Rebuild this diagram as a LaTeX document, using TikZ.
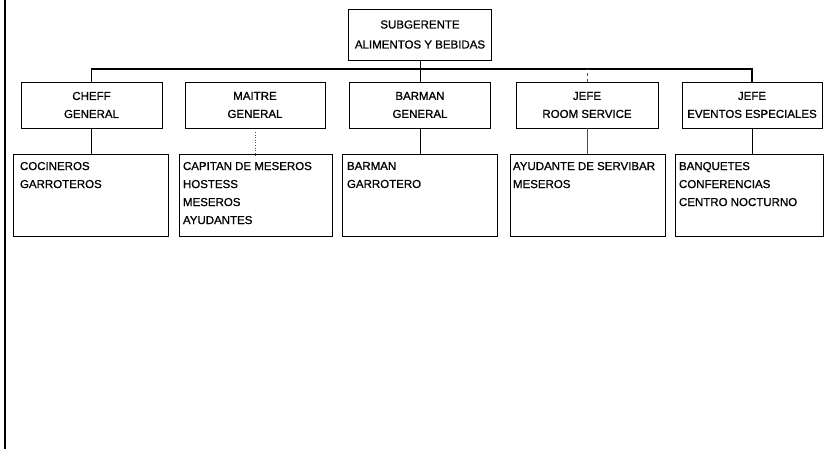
\documentclass[tikz,border=0pt]{standalone}
\usepackage{fontspec}
\setmainfont{Liberation Sans}
\newfontfamily\chartfont{Liberation Sans}[FakeBold=0.9]
\begin{document}
\begin{tikzpicture}[x=1pt,y=-1pt,
  every node/.style={inner sep=0pt, outer sep=0pt},
  txt/.style={font=\chartfont\fontsize{11.5}{18}\selectfont},
  box/.style={draw, line width=0.9pt},
  headbox/.style={box, minimum height=46pt, align=center, txt},
  listbox/.style={box, minimum height=82pt},
  listtxt/.style={txt, anchor=north west, align=left},
  link/.style={line width=0.9pt},
  weak/.style={line width=0.6pt, black!70},
  busline/.style={line width=1.4pt}]
\useasboundingbox (0,0) rectangle (824,449);

% left margin rule
\draw[line width=1.6pt] (5,0) -- (5,449);

% top position
\node[box, minimum width=143pt, minimum height=51pt, align=center,
      font=\chartfont\fontsize{11.5}{20}\selectfont] (top) at (420,34.5)
      {SUBGERENTE\\ALIMENTOS Y BEBIDAS};

% department heads
\node[headbox, minimum width=141pt] (m1) at (91.5,105) {CHEFF\\GENERAL};
\node[headbox, minimum width=140pt] (m2) at (255,105) {MAITRE\\GENERAL};
\node[headbox, minimum width=141pt] (m3) at (420,105) {BARMAN\\GENERAL};
\node[headbox, minimum width=142pt] (m4) at (587,105) {JEFE\\ROOM SERVICE};
\node[headbox, minimum width=140pt] (m5) at (752,105) {JEFE\\EVENTOS ESPECIALES};

% staff boxes
\node[listbox, minimum width=155pt] (l1) at (90.5,195) {};
\node[listbox, minimum width=153pt] (l2) at (255.5,195) {};
\node[listbox, minimum width=155pt] (l3) at (419.5,195) {};
\node[listbox, minimum width=155pt] (l4) at (587.5,195) {};
\node[listbox, minimum width=148pt] (l5) at (749,195) {};

\node[listtxt] (t1) at ([shift={(7,8)}]l1.north west) {COCINEROS\\GARROTEROS};
\node[listtxt] (t2) at ([shift={(4,8)}]l2.north west) {CAPITAN DE MESEROS\\HOSTESS\\MESEROS\\AYUDANTES};
\node[listtxt] (t3) at ([shift={(5,8)}]l3.north west) {BARMAN\\GARROTERO};
\node[listtxt] (t4) at ([shift={(3,8)}]l4.north west) {AYUDANTE DE SERVIBAR\\MESEROS};
\node[listtxt] (t5) at ([shift={(4,8)}]l5.north west) {BANQUETES\\CONFERENCIAS\\CENTRO NOCTURNO};

% connectors
\coordinate (bus) at (0,69);
\draw[busline] (m1.north) -- (m1.north |- bus) -- (m5.north |- bus) -- (m5.north);
\draw[link] (top.south) -- (m3.north);
\draw[weak, dashed] (m4.north) -- (m4.north |- bus);

\draw[link] (m1.south) -- (m1.south |- l1.north);
\draw[weak, dotted] (m2.south) ++(0,4) -- ([yshift=-4pt]m2.south |- l2.north);
\draw[link] (m3.south) -- (m3.south |- l3.north);
\draw[weak] (m4.south) -- (m4.south |- l4.north);
\draw[link] (m5.south) -- (m5.south |- l5.north);
\end{tikzpicture}
\end{document}
